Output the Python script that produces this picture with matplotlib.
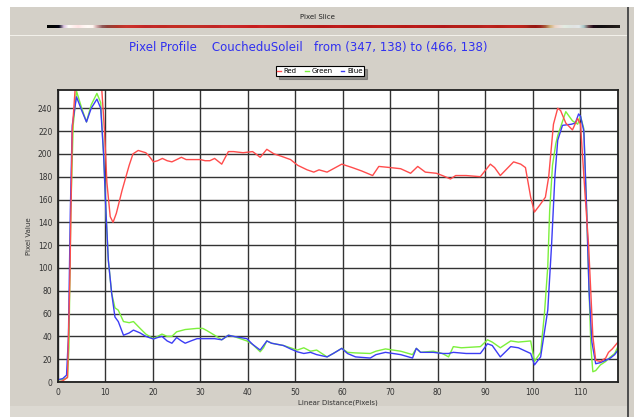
import numpy as np
import matplotlib
matplotlib.use("Agg")
from matplotlib import pyplot as plt
from matplotlib.patches import Rectangle

# Pixel profile values (x = pixel index along the slice)
red_x = [0, 1, 2, 2.5, 3, 3.6, 4, 8.5, 9.2, 9.8, 10.3, 11, 11.6, 12.3, 13.5, 15, 15.8, 16.9,
         18.5, 19.2, 20.1, 21, 22, 23, 24, 25, 26, 27, 28, 30, 31, 32, 33, 34.5, 35.9, 37, 39,
         41, 42, 42.6, 44, 45.5, 47, 49, 50.5, 52.5, 53.9, 55, 56.7, 59.8, 62, 64, 66.3, 67.6,
         70, 72.2, 74.3, 75.8, 77.4, 79.7, 81, 82.7, 83.8, 86, 89, 91.1, 92, 93.2, 96, 97.5,
         98.5, 99.6, 100.4, 101.5, 102.7, 103.4, 104.4, 105.3, 105.9, 107, 108.4, 109.5, 110.1,
         111, 111.8, 112.2, 112.7, 113.3, 114.3, 115.4, 116, 116.8, 118]
red_y = [0, 1, 4, 90, 220, 256, 258, 258, 258, 220, 175, 145, 140, 148, 168, 190, 200, 203,
         201, 198, 193, 194, 196, 194, 193, 195, 197, 195, 195, 195, 194, 194, 196, 191, 202, 202, 201,
         202, 199, 197, 204, 200, 198, 195, 190, 186, 184, 186, 184, 191, 188, 185, 181, 189,
         188, 187, 183, 189, 184, 183, 181, 178, 181, 181, 180, 191, 188, 181, 193, 191,
         188, 162, 149, 155, 162, 180, 226, 240, 238, 227, 221, 231, 226,
         168, 120, 85, 40, 19, 18, 21, 26, 29, 35]

green_x = [0, 1, 2, 2.3, 2.7, 3.2, 3.9, 5, 6, 7, 8.2, 9, 9.6, 10.1, 10.6, 11.3, 12, 12.7, 13.8,
           15, 15.9, 17.3, 18.5, 20.1, 21, 21.9, 23, 24, 25, 26.8, 29.3, 30.5, 31.4, 33, 34.5,
           35.9, 37, 39.8, 41, 42.6, 43.3, 44, 45, 47.5, 49, 50.4, 51.8, 53.2, 54.5, 56.7, 58,
           59.8, 61, 62.7, 65.8, 67, 69, 72.2, 74.7, 75.5, 76.4, 79.1, 81, 82.3, 83.3, 85, 89,
           90.5, 91.5, 93.2, 95.4, 97, 99.6, 100.4, 101.7, 102.5, 103.2, 103.6, 104.2, 104.9,
           105.3, 107, 108.4, 109.5, 110.1, 110.8, 111.4, 111.9, 112.3, 112.7, 113.3, 114.3,
           115.4, 116.4, 117.3, 118]
green_y = [2, 2, 4, 30, 150, 225, 255, 240, 228, 243, 253, 245, 200, 150, 107, 78, 65, 63, 53,
           52, 53, 47, 42, 38, 40, 42, 40, 40, 44, 46, 47, 47, 45, 41, 37,
           41, 40, 36, 33, 26.5, 30, 36, 34, 32, 30, 28, 30, 27, 28, 22, 25,
           29.5, 26, 25.5, 25, 27, 29, 27, 24, 29.5, 26, 27, 25, 22, 31, 30, 31,
           37, 35, 30, 36, 35, 36, 18, 26, 60, 101, 150, 190, 209,
           216, 237, 229, 226, 233, 222, 150, 80, 30, 9, 10, 15,
           18, 22, 25, 31]

blue_x = [0, 1, 1.8, 2.2, 2.6, 3, 3.9, 5, 6, 7, 8.2, 9, 9.6, 10.1, 10.6, 11.3, 12, 12.7, 13.8,
          15, 15.9, 17.3, 18.5, 20.1, 21, 21.9, 23, 24, 25, 26, 26.8, 28, 29.3, 31.4, 33, 34.5,
          35.9, 37, 39.8, 41, 42.6, 43.3, 44, 45, 47.5, 49, 50.4, 51.8, 53.2, 54.5, 56.7, 58,
          59.8, 61, 62.7, 65.8, 67, 69, 72.2, 74.7, 75.5, 76.4, 79.1, 81, 82.3, 83.3, 86, 89,
          90.5, 91.5, 93.2, 95.4, 97, 99.6, 100.4, 101.7, 103.2, 104, 104.7, 105.3, 106.3,
          108.2, 109, 109.7, 110.1, 110.8, 111.4, 111.9, 112.5, 113.3, 114.3, 115.4, 116.4,
          117.3, 118]
blue_y = [2, 3, 6, 40, 150, 225, 250, 238, 228, 240, 248, 240, 200, 150, 107, 78, 57, 53, 41,
          43, 45.5, 43, 40, 37.7, 39, 40, 36, 34, 39, 36, 34, 36, 38, 38, 38, 37,
          41, 40, 38, 33, 28, 32, 36, 34, 32, 29, 26.5, 25, 26, 24, 22, 25,
          29.5, 25, 22, 21, 24, 26, 24, 21, 29.5, 26, 26, 25, 25, 26, 25, 25,
          33.5, 32, 22, 31, 30, 25, 15, 22, 63, 120, 180, 212, 225,
          226, 227, 235, 233, 220, 150, 80, 35, 16, 17, 19, 21,
          24, 28]

title = "Pixel Profile    CoucheduSoleil   from (347, 138) to (466, 138)"
x_ticks = list(range(0, 120, 10))
y_ticks = list(range(0, 260, 20))

W, H = 634, 417
fig = plt.figure(figsize=(W / 100, H / 100), dpi=100)
fig.patch.set_facecolor("#D4D0C8")

# window chrome: white margin on left/top, dark edge right, separator lines
fig.add_artist(Rectangle((0, 0), 10 / W, 1, transform=fig.transFigure, color="white", lw=0))
fig.add_artist(Rectangle((0, 1 - 7 / H), 1, 7 / H, transform=fig.transFigure, color="white", lw=0))
fig.add_artist(Rectangle((627 / W, 0), 2 / W, 1 - 7 / H, transform=fig.transFigure, color="#505050", lw=0))
fig.add_artist(Rectangle((10 / W, 1 - 36 / H), 617 / W, 1.5 / H, transform=fig.transFigure,
                         color="#F2F0EA", lw=0))
fig.add_artist(Rectangle((10 / W, 0), 617 / W, 11 / H, transform=fig.transFigure,
                         color="#DCD9D2", lw=0))

fig.text(317 / W, 1 - 17 / H, "Pixel Slice", fontsize=5, ha="center", va="center", color="#222222")

# slice strip: colours of the pixels along the line
grid_x = np.arange(0, 119)
strip = np.stack([np.interp(grid_x, red_x, red_y),
                  np.interp(grid_x, green_x, green_y),
                  np.interp(grid_x, blue_x, blue_y)], axis=-1)
strip = np.clip(strip / 255.0, 0, 1)[None, :, :]
ax_s = fig.add_axes([47 / W, 1 - 28 / H, 573 / W, 3.5 / H])
ax_s.imshow(strip, aspect="auto", interpolation="bilinear")
ax_s.set_axis_off()

fig.text(308 / W, 1 - 47 / H, title, fontsize=8.5, ha="center", va="center", color="#3030F0")

ax = fig.add_axes([58 / W, 1 - 382 / H, 560 / W, 292 / H])
ax.set_facecolor("white")
lg, = ax.plot(green_x, green_y, color="#7CF03C", lw=1.0, label="Green")
lb, = ax.plot(blue_x, blue_y, color="#3C3CF5", lw=1.0, label="Blue")
lr, = ax.plot(red_x, red_y, color="#FF4C4C", lw=1.0, label="Red")

ax.set_xlim(0, 118)
ax.set_ylim(0, 256)
ax.set_xticks(x_ticks)
ax.set_yticks(y_ticks)
ax.set_xticklabels([str(t) for t in x_ticks])
ax.set_yticklabels([str(t) for t in y_ticks])
ax.tick_params(length=0, labelsize=5.5, labelcolor="#333333", pad=4)
ax.grid(True, color="#333333", lw=1.0)
ax.set_axisbelow(True)
for sp in ax.spines.values():
    sp.set_color("#202020")
    sp.set_linewidth(1.3)
ax.set_xlabel("Linear Distance(Pixels)", fontsize=5, color="#333333", labelpad=2)
ax.set_ylabel("Pixel Value", fontsize=5, color="#333333", labelpad=4)

leg = ax.legend(handles=[lr, lg, lb], ncol=3, loc="center",
                bbox_to_anchor=(320 / W, 1 - 71 / H), bbox_transform=fig.transFigure,
                fontsize=5, handlelength=0.5, handletextpad=0.4, columnspacing=1.2,
                borderpad=0.25, fancybox=False, shadow=True, framealpha=1, edgecolor="black")
leg.get_frame().set_linewidth(0.8)

fig.savefig("out.png", dpi=100)
